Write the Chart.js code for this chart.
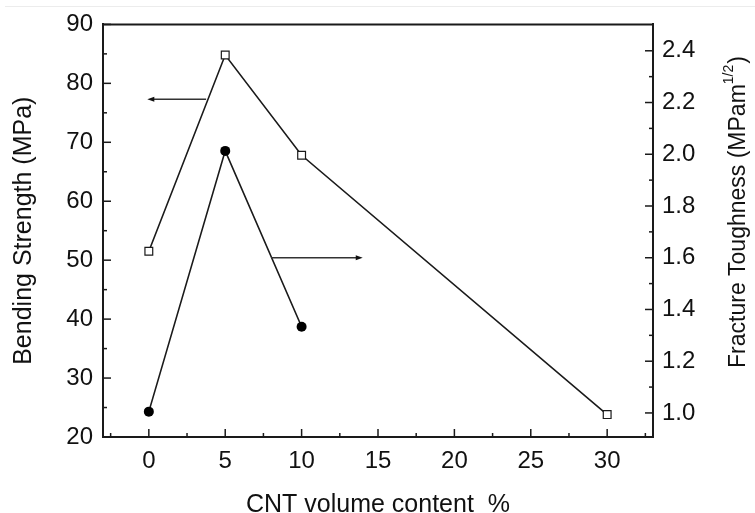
<!DOCTYPE html>
<html><head><meta charset="utf-8">
<script src="https://cdn.jsdelivr.net/npm/chart.js@4"></script>
<style>
html,body{margin:0;padding:0;background:#fff;}
#wrap{position:relative;width:755px;height:513px;}
#topline{position:absolute;left:5px;right:0;top:6px;border-top:1px solid #ececec;}
canvas{display:block;}
</style></head><body>
<div id="wrap"><div id="topline"></div><canvas id="c" width="755" height="513"></canvas></div>
<script>
// ---- data ----
const cntContent = [0, 5, 10, 30];
const bendingStrength = [51.5, 84.8, 67.8, 23.8];
const toughnessContent = [0, 5, 10];
const fractureToughness = [1.005, 2.013, 1.333];
const xTicks = [0, 5, 10, 15, 20, 25, 30];
const yTicks = [20, 30, 40, 50, 60, 70, 80, 90];
const y1Ticks = [1.0, 1.2, 1.4, 1.6, 1.8, 2.0, 2.2, 2.4];
// arrow annotations (data space): [tailX, headX], y value
const arrowBendingX = [3.75, -0.1];
const arrowBendingY = 77.3;
const arrowToughX = [8.0, 14.0];
const arrowToughY = 1.60;

const FONT = "'Liberation Sans', Arial, Helvetica, sans-serif";
const INK = '#1a1a1a';

function minorsOf(arr, lo, hi) {
  const step = arr[1] - arr[0];
  const out = [];
  for (let i = -1; i < arr.length; i++) {
    const base = i < 0 ? arr[0] - step : arr[i];
    const v = +(base + step / 2).toFixed(4);
    if (v > lo && v < hi) out.push(v);
  }
  return out;
}

const decor = {
  id: 'decor',
  afterDraw(chart) {
    const {ctx, chartArea: a, scales} = chart;
    const xs = scales.x, ys = scales.y, y1 = scales.y1;
    ctx.save();
    // frame top line
    ctx.strokeStyle = INK; ctx.lineWidth = 2;
    ctx.beginPath(); ctx.moveTo(a.left, a.top); ctx.lineTo(a.right, a.top); ctx.stroke();
    // inward ticks
    ctx.lineWidth = 1.5;
    const tick = (x1, y1p, x2, y2) => { ctx.beginPath(); ctx.moveTo(x1, y1p); ctx.lineTo(x2, y2); ctx.stroke(); };
    xTicks.forEach(v => { const p = xs.getPixelForValue(v); tick(p, a.bottom, p, a.bottom - 8); });
    minorsOf(xTicks, xs.min, xs.max).forEach(v => { const p = xs.getPixelForValue(v); tick(p, a.bottom, p, a.bottom - 4); });
    yTicks.forEach(v => { const p = ys.getPixelForValue(v); tick(a.left, p, a.left + 8, p); });
    minorsOf(yTicks, ys.min, ys.max).forEach(v => { const p = ys.getPixelForValue(v); tick(a.left, p, a.left + 4, p); });
    y1Ticks.forEach(v => { const p = y1.getPixelForValue(v); tick(a.right, p, a.right - 8, p); });
    minorsOf(y1Ticks, y1.min, y1.max - 0.01).forEach(v => { const p = y1.getPixelForValue(v); tick(a.right, p, a.right - 4, p); });
    // arrows
    const arrow = (xa, xb, yp) => {
      const pa = xs.getPixelForValue(xa), pb = xs.getPixelForValue(xb);
      const dir = pb > pa ? 1 : -1;
      ctx.strokeStyle = '#333'; ctx.lineWidth = 1.6;
      ctx.beginPath(); ctx.moveTo(pa, yp); ctx.lineTo(pb - dir * 4, yp); ctx.stroke();
      ctx.fillStyle = '#111';
      ctx.beginPath(); ctx.moveTo(pb, yp); ctx.lineTo(pb - dir * 7, yp - 2.5); ctx.lineTo(pb - dir * 7, yp + 2.5); ctx.closePath(); ctx.fill();
    };
    arrow(arrowBendingX[0], arrowBendingX[1], ys.getPixelForValue(arrowBendingY));
    arrow(arrowToughX[0], arrowToughX[1], y1.getPixelForValue(arrowToughY));
    // right axis title with superscript
    const main = 'Fracture Toughness (MPam', sup = '1/2', close = ')';
    ctx.fillStyle = '#111';
    ctx.textBaseline = 'middle';
    ctx.font = '23px ' + FONT;
    const wMain = ctx.measureText(main).width, wClose = ctx.measureText(close).width;
    ctx.font = '14px ' + FONT;
    const wSup = ctx.measureText(sup).width;
    const total = wMain + wSup + 1 + wClose;
    ctx.translate(739, 212);
    ctx.rotate(-Math.PI / 2);
    let x = -total / 2;
    ctx.textAlign = 'left';
    ctx.font = '23px ' + FONT; ctx.fillText(main, x, 0); x += wMain;
    ctx.font = '14px ' + FONT; ctx.fillText(sup, x, -10); x += wSup + 1;
    ctx.font = '23px ' + FONT; ctx.fillText(close, x, 0);
    ctx.restore();
  }
};

new Chart(document.getElementById('c'), {
  type: 'scatter',
  data: {
    datasets: [
      {
        label: 'Bending Strength',
        data: cntContent.map((x, i) => ({x, y: bendingStrength[i]})),
        yAxisID: 'y', showLine: true,
        borderColor: INK, borderWidth: 1.6,
        pointStyle: 'rect', pointRadius: 5.5, pointBorderWidth: 1.2,
        pointBackgroundColor: '#fff', pointBorderColor: INK,
        clip: false
      },
      {
        label: 'Fracture Toughness',
        data: toughnessContent.map((x, i) => ({x, y: fractureToughness[i]})),
        yAxisID: 'y1', showLine: true,
        borderColor: INK, borderWidth: 1.6,
        pointStyle: 'circle', pointRadius: 5, pointBorderWidth: 0,
        pointBackgroundColor: '#000', pointBorderColor: '#000',
        clip: false
      }
    ]
  },
  options: {
    responsive: false, animation: false, devicePixelRatio: 1,
    layout: {padding: {top: 24, left: 0, right: 0, bottom: 0}},
    plugins: {legend: {display: false}, tooltip: {enabled: false}},
    scales: {
      x: {
        type: 'linear', min: -3, max: 33,
        afterBuildTicks: s => { s.ticks = xTicks.map(v => ({value: v})); },
        afterFit: s => { s.height = 76; },
        grid: {display: false, drawTicks: false},
        border: {display: true, color: INK, width: 2},
        ticks: {autoSkip: false, maxRotation: 0, padding: 10, color: '#111', font: {family: FONT, size: 24}},
        title: {display: true, text: 'CNT volume content  %', color: '#111', font: {family: FONT, size: 25, lineHeight: 1}, padding: {top: 0, bottom: -5}}
      },
      y: {
        type: 'linear', position: 'left', min: 20, max: 90,
        afterBuildTicks: s => { s.ticks = yTicks.map(v => ({value: v})); },
        afterFit: s => { s.width = 103; },
        grid: {display: false, drawTicks: false},
        border: {display: true, color: INK, width: 2},
        ticks: {autoSkip: false, padding: 10, color: '#111', font: {family: FONT, size: 24}},
        title: {display: true, text: 'Bending Strength (MPa)', color: '#111', font: {family: FONT, size: 25, lineHeight: 1}, padding: {top: 12, bottom: 0}}
      },
      y1: {
        type: 'linear', position: 'right', min: 0.907, max: 2.502,
        afterBuildTicks: s => { s.ticks = y1Ticks.map(v => ({value: v})); },
        afterFit: s => { s.width = 102; },
        grid: {display: false, drawTicks: false},
        border: {display: true, color: INK, width: 2},
        ticks: {autoSkip: false, padding: 9, color: '#111', font: {family: FONT, size: 24}, callback: v => v.toFixed(1)},
        title: {display: false}
      }
    }
  },
  plugins: [decor]
});
</script>
</body></html>
